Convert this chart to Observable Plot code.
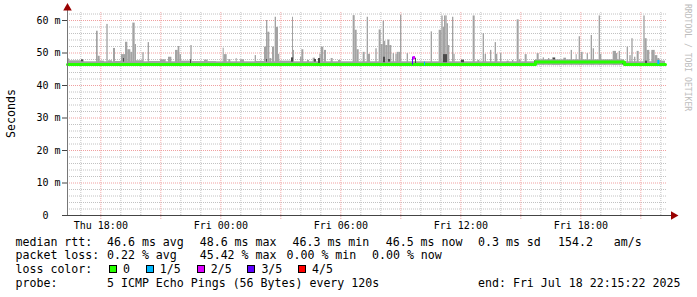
<!DOCTYPE html>
<html><head><meta charset="utf-8">
<script src="https://cdn.jsdelivr.net/npm/d3@7"></script>
<script src="https://cdn.jsdelivr.net/npm/@observablehq/plot@0.6"></script>
<style>
html,body{margin:0;padding:0;background:#fff;}
#wrap{position:relative;width:697px;height:297px;overflow:hidden;background:#fff;font-family:"DejaVu Sans Mono",monospace;}
#chart{position:absolute;left:0;top:0;}
.t{position:absolute;font-size:11.6px;line-height:14px;white-space:pre;color:#000;}
.box{position:absolute;width:8px;height:8px;box-sizing:border-box;border:1px solid #000;}
</style></head><body><div id="wrap"><div id="chart"></div></div>
<script>
// ---------- data (time as minutes from start, values in ms) ----------
const startTime = "2025-07-17T16:20:00Z";
const spanMinutes = 1800;

const smokeFrom = [0,6,87,92,98,118,123,138,144,162,174,181,190,196,203,207,226,242,246,279,303,324,332,337,342,370,375,411,422,
 467,470,484,506,519,563,567,591,597,601,607,615,623,627,633,637,675,678,699,703,720,737,757,761,771,791,813,857,863,869,887,
 899,903,925,935,941,947,951,955,961,967,977,985,989,995,999,1019,1091,1115,1123,1127,1131,1135,1139,1143,1155,1159,1181,1217,1231,1247,1253,1269,1283,1287,1299,1319,1335,
 1349,1355,1373,1409,1427,1443,1455,1465,1489,1511,1526,1535,1541,1559,1571,1577,1595,1599,1611,1637,1647,1655,1679,1687,1693,1701,1709,1729,1733,1739,1753,1763,1771,1777,1783];
const smokeTo = [6,51,92,98,111,122,135,144,162,174,181,190,196,203,207,228,230,246,279,296,313,332,337,342,369,374,411,422,447,
 470,479,490,509,531,567,591,597,601,607,613,621,627,633,637,675,678,681,703,709,726,744,761,769,777,797,821,863,869,875,893,
 903,909,929,941,947,951,955,961,967,973,981,989,995,999,1003,1023,1095,1123,1127,1131,1135,1139,1143,1147,1159,1163,1187,1223,1237,1251,1257,1273,1287,1291,1303,1325,1339,
 1355,1361,1379,1415,1431,1447,1465,1479,1497,1515,1529,1539,1547,1563,1575,1581,1599,1603,1615,1647,1651,1659,1683,1691,1697,1705,1715,1733,1739,1747,1763,1771,1777,1783,1794];
const smokeTop = [48.2,47.6,56.7,49.0,47.5,58.8,47.6,51.4,47.4,49.5,53.3,51.0,50.2,59.2,52.6,47.6,50.1,53.2,47.4,47.9,48.7,50.8,52.0,49.5,47.5,52.3,47.3,47.8,47.3,
 51.5,49.5,48.0,48.3,47.9,49.2,47.4,51.8,60.0,56.4,48.3,51.8,61.0,57.9,49.6,47.5,61.0,50.8,48.7,51.0,47.7,48.4,49.6,51.8,50.8,48.3,47.7,61.5,57.0,51.0,50.2,
 61.0,49.6,51.3,57.1,52.6,59.8,53.6,52.3,54.0,52.3,49.8,49.6,50.2,50.2,61.6,49.8,56.5,57.0,61.4,57.9,61.4,61.4,59.0,52.3,61.0,49.6,47.7,61.4,47.7,56.0,49.6,50.8,53.2,49.6,49.8,47.5,47.7,
 60.2,47.9,49.5,49.8,48.5,48.3,48.5,47.7,48.4,50.8,49.5,55.0,50.2,49.8,55.4,51.3,61.4,49.6,47.7,50.5,49.8,50.5,51.8,49.2,54.4,48.7,50.5,61.4,54.4,50.8,50.8,49.2,48.3,47.7,47.5];

const baseFrom = [0, 1404, 1671];
const baseTo   = [1404, 1671, 1794];
const baseTop  = [47.3, 47.9, 47.3];

const darkFrom = [42,168,369,597,672,741,753,948,963,1044,1128,1182,1401,1458,1665,1734];
const darkTo   = [48,171,372,600,678,747,759,954,969,1047,1140,1191,1404,1464,1671,1740];
const darkLow  = [47.3,47.2,46.6,47.2,47.2,47.2,46.8,47.0,47.2,46.3,47.0,47.0,46.4,47.9,46.4,46.8];
const darkHigh = [47.9,48.3,47.9,48.0,48.5,48.0,48.3,48.7,48.0,48.4,49.5,47.8,47.6,48.4,47.4,47.5];

const medianMin = [0, 1404, 1671, 1794];
const medianVal = [46.5, 47.2, 46.5, 46.5];

const lossFrom  = [1035, 1037, 1071, 1771];
const lossTo    = [1038, 1044, 1074, 1777];
const lossLow   = [46.3, 47.9, 46.1, 46.4];
const lossHigh  = [48.7, 48.9, 47.2, 47.7];
const lossLevel = [3, 2, 1, 1];

const lossLabels = ["0", "1/5", "2/5", "3/5", "4/5"];
const lossColors = ["#26ff00", "#00b8ff", "#dd00ff", "#5e00ff", "#ff0000"];

const yTicks = [0, 10, 20, 30, 40, 50, 60];
const yTickLabels = ["0\u00a0\u00a0", "10\u00a0m", "20\u00a0m", "30\u00a0m", "40\u00a0m", "50\u00a0m", "60\u00a0m"];
const xTickTimes = ["2025-07-17T18:00:00Z", "2025-07-18T00:00:00Z", "2025-07-18T06:00:00Z", "2025-07-18T12:00:00Z", "2025-07-18T18:00:00Z"];
const xTickLabels = ["Thu 18:00", "Fri 00:00", "Fri 06:00", "Fri 12:00", "Fri 18:00"];

const rttStats  = ["46.6 ms avg", "48.6 ms max", "46.3 ms min", "46.5 ms now", "0.3 ms sd", "154.2", "am/s"];
const lossStats = ["0.22 % avg", "45.42 % max", "0.00 % min", "0.00 % now"];
const probeText = "5 ICMP Echo Pings (56 Bytes) every 120s";
const endText   = "end: Fri Jul 18 22:15:22 2025";

// ---------- helpers ----------
const t0 = new Date(startTime);
const tm = m => new Date(t0.getTime() + m * 60000);
const idx = a => d3.range(a.length);
const xTicks = xTickTimes.map(s => new Date(s));
const hours = d3.utcHour.range(tm(0), tm(spanMinutes));
const minorHours = hours.filter(h => h.getUTCHours() % 3 !== 0);
const majorHours = hours.filter(h => h.getUTCHours() % 3 === 0);
const yTop = 203 / 3.25;
const minorY = d3.range(2, 63, 2).filter(v => v % 10 !== 0);
const majorY = [10, 20, 30, 40, 50, 60];

const plot = Plot.plot({
  width: 697, height: 230,
  marginLeft: 67, marginRight: 30, marginTop: 12, marginBottom: 15,
  x: {type: "utc", domain: [tm(0), tm(spanMinutes)]},
  y: {domain: [0, yTop]},
  style: {fontFamily: "DejaVu Sans Mono", fontSize: "10px", background: "transparent", color: "#000", overflow: "visible"},
  marks: [
    Plot.ruleY(minorY, {stroke: "#c2c2c2", strokeDasharray: "1,1"}),
    Plot.ruleX(minorHours, {stroke: "#c2c2c2", strokeDasharray: "1,1"}),
    Plot.ruleY(majorY, {stroke: "#f0a0a0", strokeDasharray: "1,1"}),
    Plot.ruleX(majorHours, {y1: -1.2, y2: yTop, stroke: "#f0a0a0", strokeDasharray: "1,1"}),
    Plot.rect(idx(baseFrom), {x1: i => tm(baseFrom[i]), x2: i => tm(baseTo[i]), y1: 46.2, y2: i => baseTop[i], fill: "#a3a3a3"}),
    Plot.rect(idx(smokeFrom), {x1: i => tm(smokeFrom[i]), x2: i => tm(smokeTo[i]), y1: 46.2, y2: i => smokeTop[i], fill: "#a3a3a3"}),
    Plot.rect(idx(darkFrom), {x1: i => tm(darkFrom[i]), x2: i => tm(darkTo[i]), y1: i => darkLow[i], y2: i => darkHigh[i], fill: "#4a4a4a"}),
    Plot.line(idx(medianMin), {x: i => tm(medianMin[i]), y: i => medianVal[i], curve: "step-after", stroke: lossColors[0], strokeWidth: 3}),
    Plot.rect(idx(lossFrom), {x1: i => tm(lossFrom[i]), x2: i => tm(lossTo[i]), y1: i => lossLow[i], y2: i => lossHigh[i], fill: i => lossColors[lossLevel[i]]}),
    Plot.ruleY([0], {x1: tm(-15), x2: tm(spanMinutes + 15), stroke: "#444"}),
    Plot.ruleX([tm(0)], {y1: 0, y2: yTop + 1, stroke: "#777"}),
    Plot.dot([0], {x: tm(spanMinutes + 18), y: 0, symbol: "triangle", r: 3.2, rotate: 90, fill: "#990000", stroke: "none"}),
    Plot.dot([0], {x: tm(0), y: yTop + 1.4, symbol: "triangle", r: 3.2, fill: "#990000", stroke: "none"}),
    Plot.axisY({ticks: yTicks, tickFormat: d => yTickLabels[yTicks.indexOf(d)], tickSize: 5, tickPadding: 2, stroke: "#444", label: null}),
    Plot.axisX({ticks: xTicks, tickFormat: d => xTickLabels[xTicks.findIndex(v => +v === +d)], tickSize: 0, tickPadding: 6, label: null})
  ]
});
document.getElementById("chart").appendChild(plot);

// ---------- texts ----------
const wrap = document.getElementById("wrap");
function txt(s, left, top, extra) {
  const e = document.createElement("div");
  e.className = "t"; e.textContent = s;
  e.style.left = left + "px"; e.style.top = top + "px";
  if (extra) Object.assign(e.style, extra);
  wrap.appendChild(e); return e;
}
// y label
txt("Seconds", 4, 89, {writingMode: "vertical-rl", transform: "rotate(180deg)", lineHeight: "14px"});
// watermark
txt("RRDTOOL / TOBI OETIKER", 683, 4, {writingMode: "vertical-rl", fontSize: "8.1px", lineHeight: "9px", color: "#bdbdbd"});

const L1 = 234.7, L2 = 248, L3 = 262.3, L4 = 276.3;
txt("median rtt:", 15.5, L1);
[107, 199.7, 292.5, 385.7, 478, 558, 613.7].forEach((x, i) => txt(rttStats[i], x, L1));
txt("packet loss:", 15.5, L2);
[107, 199.7, 286.5, 372].forEach((x, i) => txt(lossStats[i], x, L2));
txt("loss color:", 15.5, L3);
const boxX = [108.5, 145.5, 196.5, 247, 297.5];
const labX = [123, 159.7, 210.7, 261.4, 312];
lossLabels.forEach((s, i) => {
  const b = document.createElement("div");
  b.className = "box"; b.style.left = boxX[i] + "px"; b.style.top = "265px"; b.style.background = lossColors[i];
  wrap.appendChild(b);
  txt(s, labX[i], L3);
});
txt("probe:", 15.5, L4);
txt(probeText, 107, L4);
txt(endText, 478, L4);
</script></body></html>
